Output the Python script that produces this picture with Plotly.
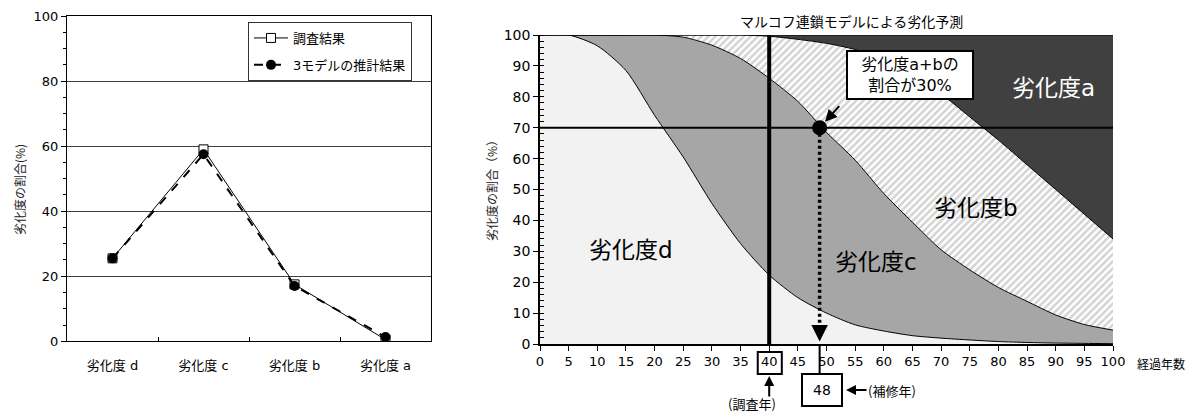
import plotly.graph_objects as go

# ---------------- data: left chart ----------------
categories = ["劣化度 d", "劣化度 c", "劣化度 b", "劣化度 a"]
survey_vals = [25.5, 59.0, 17.5, 0.5]
model_vals = [25.5, 57.5, 17.0, 1.3]

# ---------------- data: right chart (cumulative shares, %) ----------------
years = list(range(0, 101, 5))
cum_d = [100, 100, 96.5, 88.5, 74, 60.5, 45.5, 32.5, 22.3, 15, 10, 6.2, 4.2, 2.7, 1.9, 1.3, 0.8, 0.5, 0.3, 0.2, 0.1]
cum_dc = [100, 100, 100, 100, 100, 99.3, 96.7, 92.4, 86, 78.5, 68.5, 59.5, 48.7, 39.4, 30.5, 24, 18.3, 13.8, 9.4, 6.3, 4.5]
cum_dcb = [100, 100, 100, 100, 100, 100, 100, 100, 99.6, 98.6, 97.3, 95.3, 92.2, 87.5, 81, 73.5, 66, 58, 50, 42, 34]
cum_all = [100] * len(years)

survey_year = 40
threshold = 70
repair_year = 48.8
repair_label = "48"
x_ticks = list(range(0, 101, 5))

# page body has an 8px margin: the figure is made that much smaller
OFF = 8
W, H = 1195 - OFF, 414 - OFF
FONT = "Verdana, 'DejaVu Sans', 'Noto Sans CJK JP', sans-serif"
JP = "'Noto Sans CJK JP', sans-serif"


def px(x):
    return (x - OFF) / W


def py(y):
    return 1 - (y - OFF) / H


fig = go.Figure()

# ---------------- left chart ----------------
fig.add_trace(go.Scatter(
    x=categories, y=survey_vals, name="調査結果", mode="lines+markers",
    legendgroup="g1",
    line=dict(color="black", width=1),
    marker=dict(symbol="square", size=9, color="white", line=dict(color="black", width=1)),
    xaxis="x", yaxis="y"))
fig.add_trace(go.Scatter(
    x=categories, y=model_vals, name="3モデルの推計結果", mode="lines+markers",
    legendgroup="g2",
    line=dict(color="black", width=2, dash="dash"),
    marker=dict(symbol="circle", size=10, color="black"),
    xaxis="x", yaxis="y"))

# ---------------- right chart: stacked areas ----------------
line_style = dict(color="black", width=1, shape="spline", smoothing=0.7)
fig.add_trace(go.Scatter(x=years, y=cum_d, fill="tozeroy", fillcolor="#f2f2f2",
                         line=line_style, mode="lines", showlegend=False,
                         xaxis="x2", yaxis="y2", hoverinfo="skip"))
fig.add_trace(go.Scatter(x=years, y=cum_dc, fill="tonexty", fillcolor="#a6a6a6",
                         line=line_style, mode="lines", showlegend=False,
                         xaxis="x2", yaxis="y2", hoverinfo="skip"))
fig.add_trace(go.Scatter(x=years, y=cum_dcb, fill="tonexty", fillcolor="white",
                         fillpattern=dict(shape="/", fgcolor="#a8a8a8", bgcolor="white",
                                          size=5, solidity=0.5),
                         line=line_style, mode="lines", showlegend=False,
                         xaxis="x2", yaxis="y2", hoverinfo="skip"))
fig.add_trace(go.Scatter(x=years, y=cum_all, fill="tonexty", fillcolor="#404040",
                         line=dict(color="black", width=1), mode="lines", showlegend=False,
                         xaxis="x2", yaxis="y2", hoverinfo="skip"))

# reference lines
fig.add_trace(go.Scatter(x=[0, 100], y=[threshold, threshold], mode="lines",
                         line=dict(color="black", width=2), showlegend=False,
                         xaxis="x2", yaxis="y2", hoverinfo="skip"))
fig.add_trace(go.Scatter(x=[survey_year, survey_year], y=[0, 100], mode="lines",
                         line=dict(color="black", width=4), showlegend=False,
                         xaxis="x2", yaxis="y2", hoverinfo="skip"))
fig.add_trace(go.Scatter(x=[repair_year, repair_year], y=[threshold, 4], mode="lines",
                         line=dict(color="black", width=3.5, dash="3px,3px"), showlegend=False,
                         xaxis="x2", yaxis="y2", hoverinfo="skip"))
fig.add_trace(go.Scatter(x=[repair_year], y=[threshold], mode="markers",
                         marker=dict(size=15, color="black"), showlegend=False,
                         xaxis="x2", yaxis="y2", hoverinfo="skip"))

# ---------------- layout ----------------
fig.update_layout(
    width=W, height=H,
    margin=dict(l=0, r=0, t=0, b=0, autoexpand=False),
    paper_bgcolor="white", plot_bgcolor="white",
    font=dict(family=FONT, size=13, color="black"),
    showlegend=True,
    legend=dict(x=px(248), y=py(22), xanchor="left", yanchor="top",
                bgcolor="white", bordercolor="#333333", borderwidth=1,
                font=dict(family=FONT, size=13), tracegroupgap=7,
                itemwidth=34, traceorder="grouped"),
    xaxis=dict(domain=[px(67), px(431)], anchor="y", type="category", automargin=False,
               range=[-0.5, 3.5], showline=True, mirror=True, linecolor="black",
               linewidth=1, showgrid=False, ticks="inside", tickson="boundaries",
               ticklen=4, tickcolor="black", ticklabelstandoff=12,
               tickfont=dict(size=13)),
    yaxis=dict(domain=[py(341.3), py(16)], anchor="x", range=[0, 100], dtick=20,
               automargin=False, ticklabeloverflow="allow",
               showline=True, mirror=True, linecolor="black", linewidth=1,
               showgrid=True, gridcolor="#404040", gridwidth=1,
               ticks="outside", ticklen=5, tickcolor="black",
               minor=dict(dtick=5, ticks="outside", ticklen=3, tickcolor="black", showgrid=False),
               zeroline=False, tickfont=dict(size=13)),
    xaxis2=dict(domain=[px(540), px(1113)], anchor="y2", range=[0, 100], automargin=False,
                ticklabeloverflow="allow",
                tickvals=x_ticks, showline=True, linecolor="black", linewidth=1.5,
                showgrid=False, zeroline=False, ticks="outside", ticklen=5,
                tickcolor="black", tickfont=dict(size=13)),
    yaxis2=dict(domain=[py(344), py(35)], anchor="x2", range=[0, 100], dtick=10,
                automargin=False, ticklabeloverflow="allow",
                showline=True, linecolor="black", linewidth=1.5, showgrid=False,
                zeroline=False, ticks="outside", ticklen=5, tickcolor="black",
                minor=dict(dtick=2, ticks="inside", ticklen=4, tickcolor="black"),
                tickfont=dict(size=14)),
)


def note(text, x, y, size=13, color="black", family=FONT, **kw):
    d = dict(text=text, x=px(x), y=py(y), xref="paper", yref="paper", showarrow=False,
             xanchor="center", yanchor="middle", font=dict(family=family, size=size, color=color))
    d.update(kw)
    return d


ann = []
# y axis titles
ann.append(note("劣化度の割合(%)", 19, 190, size=12, color="#222", family=JP, textangle=-90))
ann.append(note("劣化度の割合（%）", 491, 188, size=12, color="#222", family=JP, textangle=-90))
# right title
ann.append(note("マルコフ連鎖モデルによる劣化予測", 851, 21, size=14, family=JP))
# region labels
ann.append(note("劣化度a", 1053, 88, size=23, color="white"))
ann.append(note("劣化度b", 976, 208, size=23))
ann.append(note("劣化度c", 876, 262, size=23))
ann.append(note("劣化度d", 631, 250, size=23))
# callout box
ann.append(note("劣化度a+bの<br>割合が30%", 910, 75, size=16, bgcolor="white",
                bordercolor="black", borderwidth=2, borderpad=2, width=120, height=42))
# arrow from callout to dot
ann.append(dict(text="", x=repair_year, y=threshold, xref="x2", yref="y2",
                ax=21, ay=-23, showarrow=True, arrowhead=2, arrowsize=1.2,
                arrowwidth=2, arrowcolor="black", standoff=8))
# arrowhead at bottom of dotted line
ann.append(dict(text="", x=repair_year, y=0.8, xref="x2", yref="y2",
                ax=0, ay=-12, showarrow=True, arrowhead=2, arrowsize=1.1,
                arrowwidth=3, arrowcolor="black"))
# repair-year box
ann.append(note(repair_label, 822.5, 390, size=14, bgcolor="white", bordercolor="black",
                borderwidth=2, width=36, height=28))
# (補修年) arrow + text
ann.append(dict(text="", x=px(846), y=py(390), xref="paper", yref="paper",
                ax=22, ay=0, showarrow=True, arrowhead=2, arrowsize=1,
                arrowwidth=2, arrowcolor="black"))
ann.append(note("(補修年)", 866, 390, size=13, family=JP, xanchor="left"))
# (調査年) arrow + text
ann.append(dict(text="", x=survey_year, y=py(376), xref="x2", yref="paper",
                ax=0, ay=22, showarrow=True, arrowhead=2, arrowsize=1,
                arrowwidth=2, arrowcolor="black"))
ann.append(note("(調査年)", 752, 403, size=13, family=JP))
# x axis title
ann.append(note("経過年数", 1135, 363, size=12, family=JP, xanchor="left"))
fig.update_layout(annotations=ann)

shapes = []
# box around "40" tick label
shapes.append(dict(type="rect", xref="x2", yref="paper", x0=survey_year - 2.0, x1=survey_year + 2.2,
                   y0=py(374), y1=py(352), line=dict(color="black", width=2)))
# connector from axis to "48" box
shapes.append(dict(type="line", xref="x2", yref="paper", x0=repair_year, x1=repair_year,
                   y0=py(344), y1=py(373), line=dict(color="black", width=2)))
fig.update_layout(shapes=shapes)

fig.write_html("out.html")
